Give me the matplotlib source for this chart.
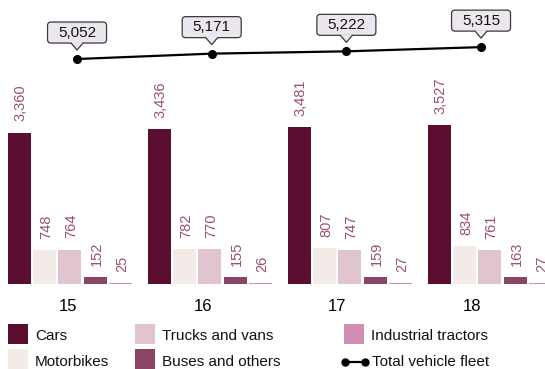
import matplotlib
matplotlib.use("Agg")
import matplotlib.pyplot as plt
import matplotlib.transforms as mtransforms
from matplotlib.patches import FancyBboxPatch, Rectangle, Polygon
from matplotlib.lines import Line2D
import numpy as np

plt.rcParams['font.family'] = ['Liberation Sans', 'DejaVu Sans']

years = ["15", "16", "17", "18"]
series_names = ["Cars", "Motorbikes", "Trucks and vans", "Buses and others", "Industrial tractors"]
cars = [3360, 3436, 3481, 3527]
motorbikes = [748, 782, 807, 834]
trucks_vans = [764, 770, 747, 761]
buses_others = [152, 155, 159, 163]
industrial_tractors = [25, 26, 27, 27]
total_fleet = [5052, 5171, 5222, 5315]
line_name = "Total vehicle fleet"

colors = ["#5b0e30", "#f3ebe8", "#e0c5d1", "#8b4564", "#d28fb5"]
label_color = "#9c4f70"
box_fc = "#ece6ef"
box_ec = "#3a3a3a"

W, H = 545, 369
DPI = 100
fig = plt.figure(figsize=(W / DPI, H / DPI), dpi=DPI)

# bar axes: baseline 284 px from top, spans full width
ax = fig.add_axes([0, (H - 284) / H, 1, 284 / H])
ax.set_xlim(-0.5, 3.393)
ax.set_ylim(0, 6300)
ax.axis("off")

series = [cars, motorbikes, trucks_vans, buses_others, industrial_tractors]
pitch = 25.25 / 140
width = 23 / 140
x = np.arange(len(years))
for k, (vals, col) in enumerate(zip(series, colors)):
    pos = x + (k - 2) * pitch
    ax.bar(pos, vals, width=width, color=col)
    for px, v in zip(pos, vals):
        ax.annotate(f"{v:,}", (px, v), xytext=(1, 8), textcoords="offset points",
                    rotation=90, ha="center", va="bottom", color=label_color,
                    fontsize=10.5, annotation_clip=False)

# line axes overlay
ax2 = fig.add_axes([0, (H - 284) / H, 1, 284 / H], facecolor="none")
ax2.set_xlim(-0.572, 3.475)
ax2.set_ylim(80, 80 + 284 * 22.1)
for s in ax2.spines.values():
    s.set_visible(False)
ax2.set_yticks([])
ax2.plot(x, total_fleet, color="black", lw=1.6, marker="o", ms=5.5, zorder=5)

ax2.set_xticks(x)
ax2.set_xticklabels(years, fontsize=12)
ax2.tick_params(axis="x", length=0, pad=11)
shift = mtransforms.ScaledTranslation(-9 / DPI, 0, fig.dpi_scale_trans)
for lbl in ax2.get_xticklabels():
    lbl.set_transform(lbl.get_transform() + shift)

# callouts above each line point (drawn in pixel units)
bw, bh = 59, 21
for xi, v in zip(x, total_fleet):
    px, py = ax2.transData.transform((xi, v))
    base = py + 16
    tip = py + 9
    box = FancyBboxPatch((px - bw / 2, base), bw, bh,
                         boxstyle="round,pad=0,rounding_size=3.5",
                         fc=box_fc, ec=box_ec, lw=0.9, transform=None, zorder=6)
    fig.patches.append(box)
    fill = Polygon([(px - 6.9, base + 1), (px + 6.9, base + 1), (px, tip)],
                   closed=True, fc=box_fc, ec="none", transform=None, zorder=7)
    fig.patches.append(fill)
    fig.lines.append(Line2D([px - 6, px, px + 6], [base, tip, base], color=box_ec,
                            lw=0.9, transform=None, zorder=8))
    fig.text(px / W, (base + bh / 2) / H, f"{v:,}", fontsize=11, color="#111111",
             ha="center", va="center", zorder=9)

# legend
def fx(p):
    return p / W

def fy(p):
    return (H - p) / H

legend_items = [(series_names[0], colors[0], 8, 324),
                (series_names[1], colors[1], 8, 349),
                (series_names[2], colors[2], 135, 324),
                (series_names[3], colors[3], 135, 349),
                (series_names[4], colors[4], 344, 324)]
for name, col, lx, ly in legend_items:
    fig.patches.append(Rectangle((fx(lx), fy(ly + 20)), fx(20), 20 / H,
                                 transform=fig.transFigure, fc=col, ec="none"))
    fig.text(fx(lx + 27), fy(ly + 12.5), name, fontsize=11, va="center", ha="left",
             color="#111111")

fig.lines.append(Line2D([fx(344.5), fx(364.5)], [fy(362), fy(362)], transform=fig.transFigure,
                        color="black", lw=1.6, marker="o", ms=5))
fig.text(fx(372), fy(362.5), line_name, fontsize=11, va="center", ha="left", color="#111111")

fig.savefig("out.png", dpi=DPI)
